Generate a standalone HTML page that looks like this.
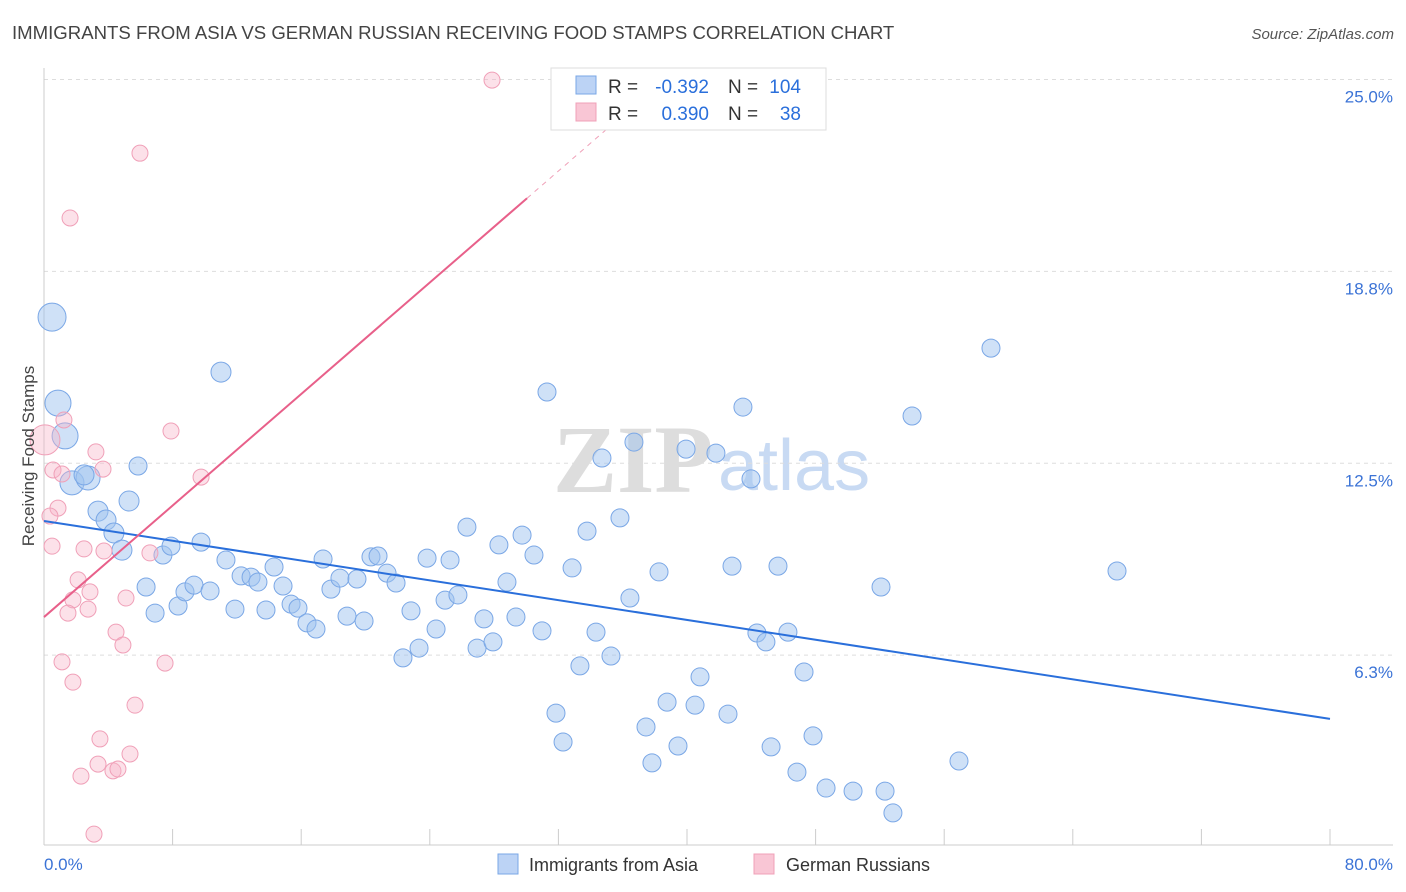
<!DOCTYPE html>
<html><head><meta charset="utf-8">
<style>
body{margin:0;background:#fff;font-family:"Liberation Sans",sans-serif;}
svg{display:block}
</style></head>
<body>
<svg id="chart" width="1406" height="892" xmlns="http://www.w3.org/2000/svg">
<text x="12" y="39" font-size="18.6" fill="#444">IMMIGRANTS FROM ASIA VS GERMAN RUSSIAN RECEIVING FOOD STAMPS CORRELATION CHART</text>
<text x="1394" y="39" font-size="15" fill="#555" font-style="italic" text-anchor="end">Source: ZipAtlas.com</text>
<g>
<text x="553" y="492" font-family="Liberation Serif,serif" font-size="96" fill="#ddd" font-weight="bold">ZIP</text>
<text x="718" y="490" font-size="72" fill="#c8daf3">atlas</text>
</g>
<g id="grid"></g>
<g id="axes"></g>
<g id="pts"></g>
<g id="lines"></g>
<text transform="translate(34,456) rotate(-90)" font-size="17" fill="#444" text-anchor="middle">Receiving Food Stamps</text>
<g font-size="19">
<rect x="551" y="68" width="275" height="62" fill="#fff" stroke="#ddd"/>
<rect x="576" y="76" width="20" height="18" fill="#bcd3f5" stroke="#7aa7e6"/>
<rect x="576" y="103" width="20" height="18" fill="#f9c6d5" stroke="#f0a0b8"/>
<text x="608" y="93" fill="#333">R =</text>
<text x="709" y="93" fill="#2a6fdb" text-anchor="end">-0.392</text>
<text x="728" y="93" fill="#333">N =</text>
<text x="801" y="93" fill="#2a6fdb" text-anchor="end">104</text>
<text x="608" y="120" fill="#333">R =</text>
<text x="709" y="120" fill="#2a6fdb" text-anchor="end">0.390</text>
<text x="728" y="120" fill="#333">N =</text>
<text x="801" y="120" fill="#2a6fdb" text-anchor="end">38</text>
</g>
<g>
<rect x="498" y="854" width="20" height="20" fill="#bcd3f5" stroke="#7aa7e6"/>
<text x="529" y="871" font-size="18" fill="#333">Immigrants from Asia</text>
<rect x="754" y="854" width="20" height="20" fill="#f9c6d5" stroke="#f0a0b8"/>
<text x="786" y="871" font-size="18" fill="#333">German Russians</text>
</g>
</svg>
<script>
const yTicks=[6.25,12.5,18.75,25];
const yTickLabels=["6.3%","12.5%","18.8%","25.0%"];
const xTicks=[0,8,16,24,32,40,48,56,64,72,80];
const xEndLabels=["0.0%","80.0%"];
const asiaX=[0.50,0.87,1.31,1.74,2.74,2.49,3.36,3.86,4.35,4.85,5.29,5.85,6.35,6.91,7.40,7.90,8.34,8.77,9.33,9.77,10.33,11.01,11.32,11.88,12.26,12.88,13.31,13.81,14.31,14.87,15.37,15.80,16.36,16.92,17.36,17.85,18.41,18.85,19.47,19.91,20.34,20.78,21.34,21.90,22.33,22.83,23.33,23.83,24.39,24.95,25.26,25.75,26.31,26.94,27.37,27.93,28.30,28.80,29.36,29.74,30.48,30.98,31.29,31.85,32.29,32.85,33.34,33.78,34.34,34.71,35.27,35.83,36.45,36.70,37.45,37.82,38.26,38.76,39.44,39.94,40.50,40.81,41.80,42.55,42.80,43.48,43.98,44.35,44.91,45.23,45.66,46.28,46.84,47.28,47.84,48.65,50.33,52.07,52.32,52.81,54.00,56.92,58.91,66.75];
const asiaY=[17.26,14.46,13.39,11.86,12.02,12.12,10.94,10.65,10.23,9.67,11.27,12.41,8.47,7.62,9.51,9.80,7.85,8.31,8.53,9.93,8.34,15.47,9.35,7.75,8.83,8.79,8.63,7.72,9.12,8.50,7.91,7.78,7.30,7.10,9.38,8.40,8.76,7.52,8.73,7.36,9.45,9.48,8.92,8.60,6.16,7.69,6.48,9.41,7.10,8.04,9.35,8.21,10.42,6.48,7.43,6.68,9.84,8.63,7.49,10.16,9.51,7.04,14.82,4.36,3.42,9.09,5.90,10.29,7.00,12.67,6.22,10.72,8.11,13.19,3.91,2.74,8.96,4.72,3.29,12.96,4.62,5.54,12.83,4.33,9.15,14.33,11.99,6.97,6.68,3.26,9.15,7.00,2.44,5.70,3.62,1.92,1.82,8.47,1.82,1.11,14.04,2.80,16.25,8.99];
const asiaW=[14,13,13,12,12,10,10,10,10,10,10,9,9,9,9,9,9,9,9,9,9,10];
const grX=[27.87,5.97,1.62,0.06,1.24,7.90,3.23,0.56,3.67,1.12,9.77,0.87,0.37,0.50,2.49,3.73,6.59,2.12,2.86,1.80,5.10,1.49,2.74,4.48,4.91,1.12,7.53,1.80,5.66,3.48,5.35,2.30,3.36,4.29,4.60,3.11];
const grY=[24.98,22.60,20.49,13.26,13.91,13.55,12.87,12.28,12.31,12.15,12.05,11.04,10.78,9.80,9.71,9.64,9.58,8.70,8.31,8.05,8.11,7.62,7.75,7.00,6.58,6.03,5.99,5.37,4.62,3.52,3.03,2.31,2.70,2.48,2.54,0.42];
const grW=[8,8,8,15];
const asiaTrend=[10.62,-0.0806];
const grTrend=[7.49,0.454];
const X0=44,X1=1330,Y0=847,PXY=30.7;
const sx=v=>X0+v*(X1-X0)/80, sy=v=>Y0-v*PXY;
const NS="http://www.w3.org/2000/svg";
function mk(tag,attrs,parent){const e=document.createElementNS(NS,tag);for(const k in attrs)e.setAttribute(k,attrs[k]);parent.appendChild(e);return e;}
const grid=document.getElementById('grid'),axes=document.getElementById('axes'),pts=document.getElementById('pts'),lines=document.getElementById('lines');
yTicks.forEach((t,i)=>{
 const l=mk('line',{x1:44,x2:1393,y1:sy(t),y2:sy(t),stroke:'#ddd','stroke-dasharray':'4,4'},grid);
 
 
 const tx=mk('text',{x:1393,y:sy(t)+23,'font-size':17,fill:'#3b73d6','text-anchor':'end'},axes);
 tx.textContent=yTickLabels[i];
 
 
});
const ya=mk('line',{x1:44,x2:44,y1:68,y2:845,stroke:'#ccc'},axes);


const xa=mk('line',{x1:44,x2:1393,y1:845,y2:845,stroke:'#ccc'},axes);


xTicks.forEach(t=>{
 const k=mk('line',{x1:sx(t),x2:sx(t),y1:829,y2:845,stroke:'#ccc'},axes);
 
 
});
const xl0=mk('text',{x:44,y:870,'font-size':17,fill:'#3b73d6'},axes);xl0.textContent=xEndLabels[0];


const xl1=mk('text',{x:1393,y:870,'font-size':17,fill:'#3b73d6','text-anchor':'end'},axes);xl1.textContent=xEndLabels[1];


asiaX.forEach((v,i)=>{
 const c=mk('circle',{cx:sx(v),cy:sy(asiaY[i]),r:asiaW[i]||9,fill:'rgba(160,196,240,0.5)',stroke:'#7aa7e6','stroke-width':1},pts);
 
 
});
grX.forEach((v,i)=>{
 const c=mk('circle',{cx:sx(v),cy:sy(grY[i]),r:grW[i]||8,fill:'rgba(248,180,200,0.4)',stroke:'#f0a0b8','stroke-width':1},pts);
 
 
});
const bl=mk('line',{x1:sx(0),y1:sy(asiaTrend[0]),x2:sx(80),y2:sy(asiaTrend[0]+asiaTrend[1]*80),stroke:'#2a6fdb','stroke-width':2},lines);


const xe=30.05,xd=35.2;
const pl=mk('line',{x1:sx(0),y1:sy(grTrend[0]),x2:sx(xe),y2:sy(grTrend[0]+grTrend[1]*xe),stroke:'#e8608a','stroke-width':2},lines);


const pd=mk('line',{x1:sx(xe),y1:sy(grTrend[0]+grTrend[1]*xe),x2:sx(xd),y2:sy(grTrend[0]+grTrend[1]*xd),stroke:'#f0a0b8','stroke-width':1,'stroke-dasharray':'5,5'},lines);


</script>
</body></html>
